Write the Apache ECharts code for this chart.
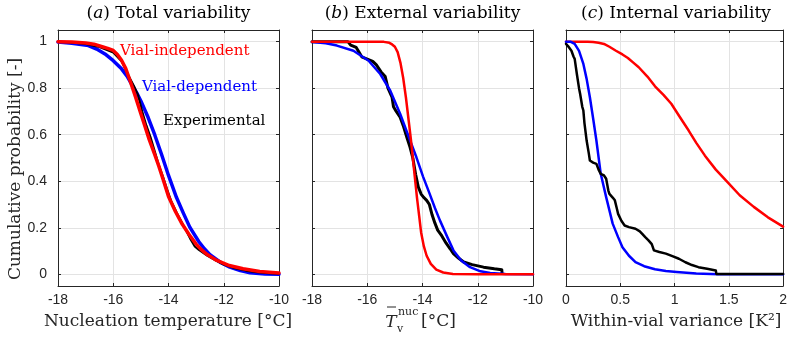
<!DOCTYPE html>
<html><head><meta charset="utf-8">
<script src="https://cdn.jsdelivr.net/npm/echarts@6/dist/echarts.min.js"></script>
<style>html,body{margin:0;padding:0;background:#fff}#c{width:790px;height:337px}</style>
</head><body><div id="c"></div>
<script>
// ---------- data ----------
const yTicks = [0, 0.2, 0.4, 0.6, 0.8, 1];
// (a) Total variability
const aRedX = [-18,-17.5,-17,-16.7,-16.4,-16.2,-16,-15.85,-15.7,-15.55,-15.4,-15.2,-15,-14.85,-14.7,-14.5,-14.35,-14.2,-14,-13.75,-13.5,-13.25,-13,-12.8,-12.6,-12.25,-11.8,-11.3,-10.7,-10];
const aRedY = [1,0.998,0.994,0.989,0.978,0.971,0.962,0.945,0.92,0.885,0.835,0.765,0.69,0.635,0.58,0.515,0.465,0.41,0.335,0.27,0.215,0.17,0.13,0.105,0.085,0.06,0.038,0.024,0.012,0.006];
const aBlueX = [-18,-17.5,-16.9,-16.6,-16.3,-16,-15.7,-15.5,-15.34,-15.15,-15,-14.74,-14.5,-14.25,-14,-13.71,-13.45,-13.23,-12.9,-12.7,-12.5,-12.1,-11.78,-11.4,-11.05,-10.5,-10];
const aBlueY = [0.998,0.993,0.983,0.968,0.947,0.918,0.883,0.852,0.818,0.78,0.745,0.675,0.6,0.515,0.425,0.33,0.26,0.203,0.14,0.11,0.085,0.05,0.031,0.016,0.007,0.002,0.001];
const aExpX = [-18,-17.5,-17,-16.5,-16,-15.7,-15.45,-15.25,-15.1,-14.95,-14.8,-14.65,-14.5,-14.35,-14.2,-14.05,-13.9,-13.7,-13.5,-13.35,-13.2,-13.05,-12.9,-12.6,-12.3,-12,-11.6,-11.2,-10.8,-10.4,-10];
const aExpY = [1,0.996,0.99,0.977,0.953,0.915,0.855,0.81,0.77,0.7,0.64,0.59,0.53,0.47,0.42,0.365,0.315,0.265,0.22,0.185,0.15,0.12,0.105,0.08,0.06,0.042,0.026,0.016,0.009,0.005,0.003];
// (b) External variability
const bRedX = [-18,-16,-15.4,-15.2,-15.1,-15,-14.9,-14.8,-14.7,-14.6,-14.5,-14.42,-14.35,-14.28,-14.2,-14.12,-14.05,-13.95,-13.85,-13.7,-13.5,-13.25,-12.9,-12,-10];
const bRedY = [1,1,0.999,0.995,0.988,0.978,0.955,0.91,0.845,0.76,0.66,0.58,0.5,0.42,0.33,0.25,0.18,0.12,0.08,0.045,0.02,0.008,0.002,0,0];
const bBlueX = [-18,-17.5,-17.1,-16.5,-15.95,-15.53,-15.17,-14.81,-14.45,-14.22,-13.98,-13.74,-13.55,-13.37,-13.1,-12.88,-12.6,-12.28,-11.9,-11.55,-11,-10];
const bBlueY = [0.998,0.993,0.983,0.961,0.918,0.861,0.79,0.69,0.575,0.503,0.42,0.346,0.285,0.232,0.16,0.103,0.06,0.031,0.013,0.006,0.002,0.001];
const bExpX = [-18,-16.7,-16.6,-16.4,-16.3,-16.2,-16.0,-15.8,-15.67,-15.5,-15.35,-15.25,-15.1,-15.05,-14.95,-14.81,-14.7,-14.57,-14.45,-14.35,-14.25,-14.15,-14.05,-13.95,-13.85,-13.75,-13.65,-13.55,-13.45,-13.3,-13.15,-13.0,-12.88,-12.7,-12.51,-12.2,-11.79,-11.4,-11.13,-11.12];
const bExpY = [1,1,0.985,0.975,0.955,0.935,0.925,0.915,0.9,0.87,0.85,0.8,0.76,0.72,0.7,0.675,0.64,0.59,0.546,0.5,0.43,0.375,0.345,0.33,0.318,0.3,0.255,0.22,0.19,0.165,0.135,0.11,0.089,0.07,0.053,0.042,0.031,0.024,0.02,0.004];
// (c) Internal variability
const cRedX = [0,0.1,0.2,0.25,0.3,0.35,0.4,0.46,0.52,0.57,0.62,0.67,0.75,0.82,0.9,0.97,1.05,1.13,1.2,1.28,1.38,1.49,1.6,1.73,1.86,2];
const cRedY = [1,1,0.999,0.998,0.995,0.99,0.978,0.961,0.945,0.93,0.91,0.89,0.85,0.808,0.77,0.733,0.675,0.618,0.565,0.51,0.45,0.395,0.34,0.29,0.245,0.205];
const cBlueX = [0,0.04,0.08,0.12,0.16,0.19,0.22,0.25,0.28,0.32,0.37,0.43,0.48,0.52,0.58,0.64,0.72,0.82,0.92,1.02,1.2,1.4,2];
const cBlueY = [1,1,0.99,0.96,0.904,0.84,0.761,0.67,0.575,0.432,0.332,0.218,0.16,0.117,0.08,0.053,0.035,0.022,0.014,0.01,0.004,0.001,0.001];
const cExpX = [0,0.02,0.05,0.07,0.08,0.1,0.12,0.13,0.15,0.16,0.17,0.19,0.21,0.22,0.25,0.28,0.3,0.32,0.35,0.37,0.39,0.4,0.43,0.45,0.47,0.48,0.51,0.54,0.58,0.64,0.68,0.7,0.73,0.76,0.79,0.81,0.86,0.92,0.98,1.04,1.1,1.16,1.22,1.3,1.38,1.385,2];
const cExpY = [0.99,0.98,0.961,0.935,0.926,0.861,0.8,0.776,0.72,0.704,0.65,0.575,0.52,0.489,0.48,0.475,0.45,0.432,0.425,0.411,0.36,0.346,0.33,0.318,0.28,0.26,0.23,0.21,0.203,0.196,0.185,0.175,0.16,0.146,0.13,0.103,0.096,0.089,0.078,0.067,0.052,0.04,0.031,0.024,0.017,0.002,0.002];

const titles = ['Total variability', 'External variability', 'Internal variability'];
const letters = ['a', 'b', 'c'];
const xRanges = [[-18,-10,2],[-18,-10,2],[0,2,0.5]];

// ---------- layout ----------
const grids = [{left:58,width:221},{left:312,width:221},{left:566,width:220}];
const TOP = 30, H = 256;
const AX = '#262626';
const SERIF = '"DejaVu Serif", "Liberation Serif", serif';
const SANS = '"Liberation Sans", Arial, sans-serif';

const zip = (xs, ys) => xs.map((x, i) => [x, ys[i]]);

const option = {
  animation: false,
  backgroundColor: '#fff',
  grid: grids.map(g => ({left:g.left, top:TOP, width:g.width, height:H, containLabel:false})),
  xAxis: [],
  yAxis: [],
  series: [],
  graphic: []
};

for (let i = 0; i < 3; i++) {
  const [mn, mx, iv] = xRanges[i];
  option.xAxis.push({type:'value', gridIndex:i, min:mn, max:mx, interval:iv,
    position:'bottom',
    axisLine:{show:true, onZero:false, lineStyle:{color:AX, width:1}},
    axisTick:{show:true, inside:true, length:3, lineStyle:{color:AX}},
    axisLabel:{show:true, color:AX, fontFamily:SANS, fontSize:14, margin:7,
      formatter: v => String(v)},
    splitLine:{show:true, lineStyle:{color:'#e3e3e3', width:1}}
  });
  option.yAxis.push({
    type:'value', gridIndex:i, min:-0.05, max:1.05, position:'left',
    axisLine:{show:true, onZero:false, lineStyle:{color:AX, width:1}},
    axisTick:{show:true, inside:true, length:3, lineStyle:{color:AX}, customValues:yTicks},
    axisLabel:{show:i===0, color:AX, fontFamily:SANS, fontSize:14, margin:11, customValues:yTicks,
      formatter: v => String(v)},
    splitLine:{show:true, lineStyle:{color:'#e3e3e3', width:1}}
  });
}
for (let i = 0; i < 3; i++) {
  const [mn, mx, iv] = xRanges[i];
  option.xAxis.push({type:'value', gridIndex:i, min:mn, max:mx, interval:iv, position:'top',
    axisLine:{show:true, onZero:false, lineStyle:{color:AX, width:1}},
    axisTick:{show:true, inside:true, length:3, lineStyle:{color:AX}},
    axisLabel:{show:false}, splitLine:{show:false}});
  option.yAxis.push({type:'value', gridIndex:i, min:-0.05, max:1.05, position:'right',
    axisLine:{show:true, onZero:false, lineStyle:{color:AX, width:1}},
    axisTick:{show:true, inside:true, length:3, lineStyle:{color:AX}, customValues:yTicks},
    axisLabel:{show:false, customValues:yTicks}, splitLine:{show:false}});
}

function line(idx, data, color, width, z) {
  return {type:'line', xAxisIndex:idx, yAxisIndex:idx, data, showSymbol:false, symbol:'none',
    smooth:false, lineStyle:{color, width, join:'round', cap:'round'}, itemStyle:{color}, z, clip:true};
}
// panel a: blue, black, red on top
option.series.push(line(0, zip(aBlueX, aBlueY), '#0000ff', 3.5, 2));
option.series.push(line(0, zip(aExpX, aExpY), '#000000', 2, 3));
option.series.push(line(0, zip(aRedX, aRedY), '#ff0000', 3.5, 4));
// panel b
option.series.push(line(1, zip(bExpX, bExpY), '#000000', 3, 2));
option.series.push(line(1, zip(bBlueX, bBlueY), '#0000ff', 2.5, 3));
option.series.push(line(1, zip(bRedX, bRedY), '#ff0000', 2.5, 4));
// panel c
option.series.push(line(2, zip(cRedX, cRedY), '#ff0000', 2.5, 2));
option.series.push(line(2, zip(cBlueX, cBlueY), '#0000ff', 2.5, 3));
option.series.push(line(2, zip(cExpX, cExpY), '#000000', 2.5, 4));

// ---------- texts ----------
const G = option.graphic;
for (let i = 0; i < 3; i++) {
  const cx = grids[i].left + grids[i].width / 2;
  G.push({type:'text', x:cx, y:14, style:{
    text:'(' + '{i|' + letters[i] + '}) ' + titles[i],
    rich:{i:{fontStyle:'italic', fontFamily:SERIF, fontSize:17, fill:'#000'}},
    font:'17px ' + SERIF, fill:'#000', align:'center', verticalAlign:'middle'}});
}
G.push({type:'text', x:168, y:322, style:{text:'Nucleation temperature [°C]', font:'17px ' + SERIF,
  fill:'#262626', align:'center', verticalAlign:'middle'}});
G.push({type:'text', x:676, y:322, style:{text:'Within-vial variance [K²]', font:'17px ' + SERIF,
  fill:'#262626', align:'center', verticalAlign:'middle'}});
// T-bar_v^nuc [°C]
G.push({type:'text', x:391, y:323, style:{text:'T', font:'italic 17px ' + SERIF, fill:'#262626', align:'center', verticalAlign:'middle'}});
G.push({type:'line', shape:{x1:387, y1:307, x2:396, y2:307}, style:{stroke:'#262626', lineWidth:1}});
G.push({type:'text', x:398, y:312, style:{text:'nuc', font:'11px ' + SERIF, fill:'#262626', align:'left', verticalAlign:'middle'}});
G.push({type:'text', x:397, y:329, style:{text:'v', font:'11px ' + SERIF, fill:'#262626', align:'left', verticalAlign:'middle'}});
G.push({type:'text', x:421, y:322, style:{text:'[°C]', font:'17px ' + SERIF, fill:'#262626', align:'left', verticalAlign:'middle'}});
// y name
G.push({type:'text', x:16, y:169, rotation:Math.PI/2, style:{text:'Cumulative probability [-]', font:'17px ' + SERIF,
  fill:'#262626', align:'center', verticalAlign:'middle'}});
// annotations in panel a
G.push({type:'text', x:120, y:51, z:10, style:{text:'Vial-independent', font:'15px ' + SERIF, fill:'#ff0000', align:'left', verticalAlign:'middle'}});
G.push({type:'text', x:142, y:87, z:10, style:{text:'Vial-dependent', font:'15px ' + SERIF, fill:'#0000ff', align:'left', verticalAlign:'middle'}});
G.push({type:'text', x:163, y:121, z:10, style:{text:'Experimental', font:'15px ' + SERIF, fill:'#000000', align:'left', verticalAlign:'middle'}});

const chart = echarts.init(document.getElementById('c'), null, {renderer:'canvas'});
chart.setOption(option);
</script></body></html>
